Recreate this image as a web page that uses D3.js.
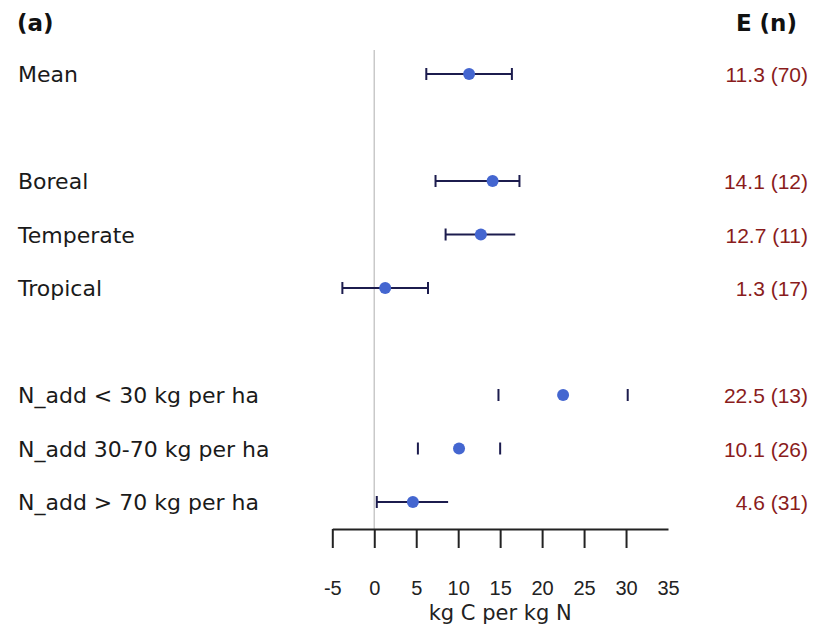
<!DOCTYPE html>
<html>
<head>
<meta charset="utf-8">
<script src="https://cdn.jsdelivr.net/npm/d3@7"></script>
<style>
  body { margin: 0; background: #fff; }
  svg { display: block; font-family: "Liberation Sans", Arial, sans-serif; }
</style>
</head>
<body>
<svg id="chart" width="823" height="629"></svg>
<script>
// ===== Data =====
const labels = ["Mean", "Boreal", "Temperate", "Tropical",
  "N_add < 30 kg per ha", "N_add 30-70 kg per ha", "N_add > 70 kg per ha"];
const rowPos = [0, 2, 3, 4, 6, 7, 8];          // row slots, blanks between groups
const est = [11.3, 14.1, 12.7, 1.3, 22.5, 10.1, 4.6];
const lower = [6.2, 7.3, 8.5, -3.8, 14.8, 5.2, 0.3];
const upper = [16.4, 17.3, 16.8, 6.4, 30.2, 15.0, 8.8];
const nObs = [70, 12, 11, 17, 13, 26, 31];
// how each bar shows up in the picture
const showLine = [true, true, true, true, false, false, true];
const capLo = [true, true, true, true, true, true, true];
const capHi = [true, true, false, true, true, true, false];
const xTicks = [-5, 0, 5, 10, 15, 20, 25, 30, 35];

// ===== Layout =====
const svg = d3.select("#chart");
const x = d3.scaleLinear().domain([-5, 35]).range([332.3, 668]);
const y = d3.scaleLinear().domain([0, 8]).range([74, 502]);
const axisY = 529;

const wideFont = "'DejaVu Sans', Verdana, sans-serif";
const barColor = "#1c1c4e";
const dotColor = "#4466d0";
const estColor = "#8a1c1c";

// reference line at zero
svg.append("line")
  .attr("x1", x(0)).attr("x2", x(0))
  .attr("y1", 50).attr("y2", axisY)
  .attr("stroke", "#c9c9c9")
  .attr("stroke-width", 1.5);

// headers
svg.append("text")
  .attr("x", 17).attr("y", 31)
  .style("font-family", wideFont)
  .style("font-size", "23px").style("font-weight", "bold")
  .attr("fill", "#111")
  .text("(a)");
svg.append("text")
  .attr("x", 797).attr("y", 31)
  .attr("text-anchor", "end")
  .style("font-family", wideFont)
  .style("font-size", "23px").style("font-weight", "bold")
  .attr("fill", "#111")
  .text("E (n)");

// rows
labels.forEach((lab, i) => {
  const cy = y(rowPos[i]);

  svg.append("text")
    .attr("x", 18).attr("y", cy + 8)
    .style("font-family", wideFont)
    .style("font-size", "22px")
    .attr("fill", "#1a1a1a")
    .text(lab);

  if (showLine[i]) {
    svg.append("line")
      .attr("x1", x(lower[i])).attr("x2", x(upper[i]))
      .attr("y1", cy).attr("y2", cy)
      .attr("stroke", barColor).attr("stroke-width", 2);
  }
  if (capLo[i]) {
    svg.append("line")
      .attr("x1", x(lower[i])).attr("x2", x(lower[i]))
      .attr("y1", cy - 6).attr("y2", cy + 6)
      .attr("stroke", barColor).attr("stroke-width", 2);
  }
  if (capHi[i]) {
    svg.append("line")
      .attr("x1", x(upper[i])).attr("x2", x(upper[i]))
      .attr("y1", cy - 6).attr("y2", cy + 6)
      .attr("stroke", barColor).attr("stroke-width", 2);
  }

  svg.append("circle")
    .attr("cx", x(est[i])).attr("cy", cy)
    .attr("r", 6)
    .attr("fill", dotColor);

  svg.append("text")
    .attr("x", 808).attr("y", cy + 8)
    .attr("text-anchor", "end")
    .style("font-size", "21px")
    .attr("fill", estColor)
    .text(`${est[i].toFixed(1)} (${nObs[i]})`);
});

// ===== Axis =====
const xAxisG = svg.append("g")
  .attr("transform", `translate(0,${axisY})`)
  .call(d3.axisBottom(x).tickValues(xTicks).tickFormat(d => String(d))
    .tickSize(19).tickPadding(33).tickSizeOuter(0));
xAxisG.select(".domain").attr("stroke", "#222").attr("stroke-width", 2);
xAxisG.selectAll(".tick line").attr("stroke", "#222").attr("stroke-width", 2);
xAxisG.selectAll(".tick").filter(d => d === 35).select("line").remove();
xAxisG.selectAll(".tick text")
  .style("font-size", "20px")
  .style("font-family", "'Liberation Sans', Arial, sans-serif")
  .attr("fill", "#222");

svg.append("text")
  .attr("x", x(15)).attr("y", 620)
  .attr("text-anchor", "middle")
  .style("font-family", wideFont)
  .style("font-size", "21px")
  .attr("fill", "#222")
  .text("kg C per kg N");
</script>
</body>
</html>
